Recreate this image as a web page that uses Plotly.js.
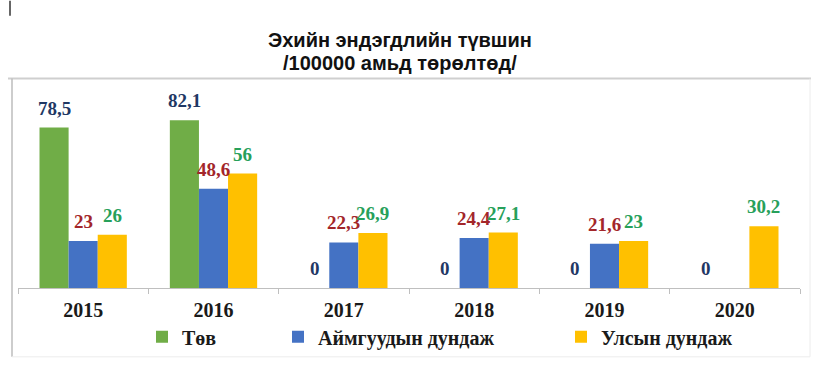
<!DOCTYPE html>
<html>
<head>
<meta charset="utf-8">
<script src="https://cdn.plot.ly/plotly-3.0.1.min.js"></script>
<style>
html,body{margin:0;padding:0;background:#fff;}
#chart{width:825px;height:372px;}
</style>
</head>
<body>
<div id="chart"></div>
<script>
// ---- data ----
const years = ['2015', '2016', '2017', '2018', '2019', '2020'];
const seriesNames = ['Төв', 'Аймгуудын дундаж', 'Улсын дундаж'];
const tov = [78.5, 82.1, 0, 0, 0, 0];
const aimag = [23, 48.6, 22.3, 24.4, 21.6, null];
const uls = [26, 56, 26.9, 27.1, 23, 30.2];
const titleLines = ['Эхийн эндэгдлийн түвшин', '/100000 амьд төрөлтөд/'];

// ---- styling ----
const W = 825, H = 372;
const M = {l: 18, r: 25, t: 103.5, b: 84};
const plotW = W - M.l - M.r, plotH = H - M.t - M.b;
const bargap = 0.33;
const barColors = ['#70ad47', '#4472c4', '#ffc000'];
const labelColors = ['#1f3864', '#a3262a', '#27a05a'];
const serif = 'Liberation Serif, Times New Roman, serif';
const series = [tov, aimag, uls];

const fmt = v => String(v).replace('.', ',');

const traces = series.map((vals, i) => ({
  type: 'bar',
  name: seriesNames[i],
  x: years,
  y: vals,
  marker: {color: barColors[i]},
  legend: i === 0 ? 'legend' : 'legend' + (i + 1),
  hoverinfo: 'x+y+name'
}));

const catW = plotW / years.length;
const barW = catW * (1 - bargap) / series.length;
const annotations = [];
series.forEach((vals, i) => {
  vals.forEach((v, j) => {
    if (v === null) return;
    annotations.push({
      x: j, y: v, xref: 'x', yref: 'y',
      text: fmt(v), showarrow: false,
      xanchor: 'center', yanchor: 'bottom',
      xshift: (i - 1) * barW, yshift: 7,
      font: {family: serif, size: 19, color: labelColors[i], weight: 'bold'}
    });
  });
});

// title lines
const px2x = px => (px - M.l) / plotW;
const px2y = py => (H - M.b - py) / plotH;
titleLines.forEach((t, k) => {
  annotations.push({
    xref: 'paper', yref: 'paper', x: px2x(400), y: px2y(39 + k * 23),
    text: t, showarrow: false, xanchor: 'center', yanchor: 'middle',
    font: {family: 'Liberation Sans, Arial, sans-serif', size: 20, color: '#111', weight: 'bold'}
  });
});

const shapes = [
  {type: 'line', xref: 'paper', yref: 'paper', x0: px2x(8), x1: px2x(811), y0: px2y(78), y1: px2y(78), line: {color: '#cfcfcf', width: 2}},
  {type: 'line', xref: 'paper', yref: 'paper', x0: px2x(12), x1: px2x(12), y0: px2y(78), y1: px2y(357), line: {color: '#bdbdbd', width: 1.5}},
  {type: 'line', xref: 'paper', yref: 'paper', x0: px2x(810), x1: px2x(810), y0: px2y(78), y1: px2y(357), line: {color: '#ececec', width: 1}},
  {type: 'line', xref: 'paper', yref: 'paper', x0: px2x(12), x1: px2x(810), y0: px2y(357), y1: px2y(357), line: {color: '#ececec', width: 1}},
  {type: 'line', xref: 'paper', yref: 'paper', x0: px2x(10), x1: px2x(10), y0: px2y(0), y1: px2y(15), line: {color: '#333', width: 1.5}}
];

const legFont = {family: serif, size: 20, color: '#1a1a1a', weight: 'bold'};
const legendPos = [142, 278, 561];
const mkLegend = xp => ({
  x: px2x(xp), y: px2y(337), xref: 'paper', yref: 'paper',
  xanchor: 'left', yanchor: 'middle', orientation: 'h',
  font: legFont, bgcolor: 'rgba(0,0,0,0)', borderwidth: 0, itemwidth: 30
});

const layout = {
  width: W, height: H,
  margin: M,
  paper_bgcolor: '#ffffff', plot_bgcolor: '#ffffff',
  barmode: 'group', bargap: bargap, bargroupgap: 0,
  showlegend: true,
  legend: mkLegend(legendPos[0]),
  legend2: mkLegend(legendPos[1]),
  legend3: mkLegend(legendPos[2]),
  xaxis: {
    type: 'category', showgrid: false, zeroline: false,
    showline: true, linecolor: '#bfbfbf', linewidth: 1,
    ticks: 'outside', tickson: 'boundaries', ticklen: 5, tickcolor: '#bfbfbf',
    ticklabelstandoff: 4,
    tickfont: {family: serif, size: 20, color: '#1a1a1a', weight: 'bold'},
    fixedrange: true
  },
  yaxis: {
    range: [0, 90], visible: false, showgrid: false, zeroline: false, fixedrange: true
  },
  annotations: annotations,
  shapes: shapes
};

Plotly.newPlot('chart', traces, layout, {displayModeBar: false, staticPlot: true});
</script>
</body>
</html>
